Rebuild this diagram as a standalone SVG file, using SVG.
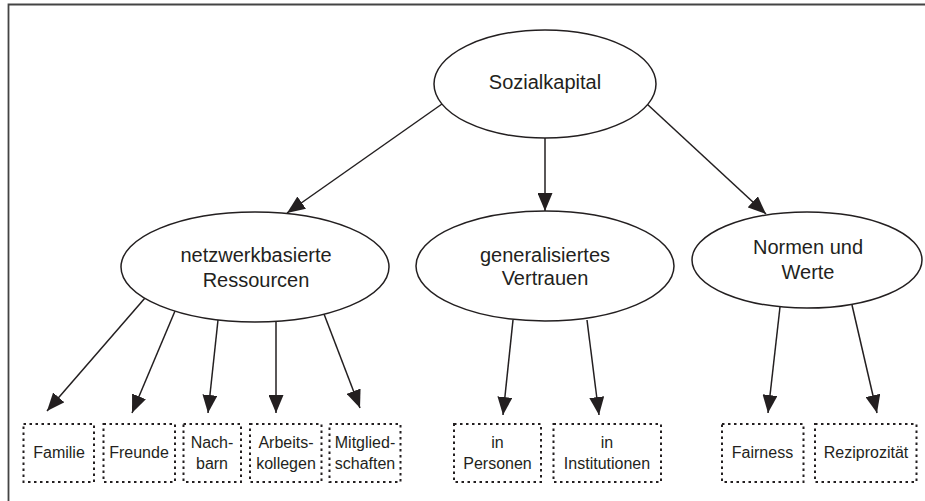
<svg xmlns="http://www.w3.org/2000/svg" width="925" height="501" viewBox="0 0 925 501">
<style>
.frame{fill:none;stroke:#444;stroke-width:1.8}
.ell{fill:#fff;stroke:#231f20;stroke-width:1.5}
.box{fill:#fff;stroke:#231f20;stroke-width:2;stroke-dasharray:2.5 3.5}
.lbl{font-family:"Liberation Sans",Arial,sans-serif;font-size:20px;fill:#231f20;text-anchor:middle}
.sm{font-family:"Liberation Sans",Arial,sans-serif;font-size:16px;fill:#231f20;text-anchor:middle}
.edge{fill:none;stroke:#231f20;stroke-width:1.5;marker-end:url(#ah)}
</style>
<defs>
<marker id="ah" viewBox="0 0 18 15" refX="18" refY="7.5" markerWidth="18" markerHeight="15" orient="auto" markerUnits="userSpaceOnUse">
<path d="M0,0 L18,7.5 L0,15 Z" fill="#231f20"/>
</marker>
</defs>
<rect width="925" height="501" fill="#fff"/>
<path class="frame" d="M8.5,501 V4.5 H925"/>
<g id="connectors">
<line class="edge" x1="442" y1="104" x2="287" y2="213"/>
<line class="edge" x1="545" y1="138" x2="545" y2="211"/>
<line class="edge" x1="647" y1="104" x2="766" y2="214"/>
<line class="edge" x1="145" y1="298" x2="47" y2="411"/>
<line class="edge" x1="175" y1="311" x2="132" y2="413"/>
<line class="edge" x1="218" y1="320" x2="208" y2="413"/>
<line class="edge" x1="276" y1="321" x2="276" y2="413"/>
<line class="edge" x1="324" y1="314" x2="360" y2="408"/>
<line class="edge" x1="513" y1="320" x2="503" y2="415"/>
<line class="edge" x1="587" y1="320" x2="599" y2="415"/>
<line class="edge" x1="780" y1="307" x2="768" y2="413"/>
<line class="edge" x1="852" y1="305" x2="877" y2="413"/>
</g>
<g id="sozialkapital">
<ellipse class="ell" cx="545" cy="84" rx="111" ry="54"/>
<text class="lbl" x="545" y="89">Sozialkapital</text>
</g>
<g id="netzwerk">
<ellipse class="ell" cx="255" cy="267" rx="134" ry="55"/>
<text class="lbl" x="256" y="262">netzwerkbasierte</text>
<text class="lbl" x="256" y="287">Ressourcen</text>
</g>
<g id="vertrauen">
<ellipse class="ell" cx="545" cy="266" rx="129" ry="55"/>
<text class="lbl" x="545" y="262">generalisiertes</text>
<text class="lbl" x="545" y="285">Vertrauen</text>
</g>
<g id="normen">
<ellipse class="ell" cx="807" cy="260" rx="115" ry="48"/>
<text class="lbl" x="808" y="254">Normen und</text>
<text class="lbl" x="808" y="279">Werte</text>
</g>
<g id="familie">
<rect class="box" x="23.5" y="424" width="70.5" height="58"/>
<text class="sm" x="59" y="457.5">Familie</text>
</g>
<g id="freunde">
<rect class="box" x="103.5" y="424" width="71.5" height="58"/>
<text class="sm" x="139" y="457.5">Freunde</text>
</g>
<g id="nachbarn">
<rect class="box" x="183.5" y="424" width="57.5" height="58"/>
<text class="sm" x="212" y="447.5">Nach-</text>
<text class="sm" x="212" y="469">barn</text>
</g>
<g id="arbeitskollegen">
<rect class="box" x="250" y="424" width="71.5" height="58"/>
<text class="sm" x="286" y="447.5">Arbeits-</text>
<text class="sm" x="286" y="469">kollegen</text>
</g>
<g id="mitgliedschaften">
<rect class="box" x="329.5" y="424" width="71" height="58"/>
<text class="sm" x="365" y="447.5">Mitglied-</text>
<text class="sm" x="365" y="469">schaften</text>
</g>
<g id="personen">
<rect class="box" x="454" y="424" width="87" height="58"/>
<text class="sm" x="497.5" y="447.5">in</text>
<text class="sm" x="497.5" y="469">Personen</text>
</g>
<g id="institutionen">
<rect class="box" x="553.5" y="424" width="107.5" height="58"/>
<text class="sm" x="607" y="447.5">in</text>
<text class="sm" x="607" y="469">Institutionen</text>
</g>
<g id="fairness">
<rect class="box" x="722" y="424" width="81.5" height="58"/>
<text class="sm" x="762.5" y="457.5">Fairness</text>
</g>
<g id="reziprozitaet">
<rect class="box" x="815" y="424" width="101.5" height="58"/>
<text class="sm" x="866" y="457.5">Reziprozität</text>
</g>
</svg>
